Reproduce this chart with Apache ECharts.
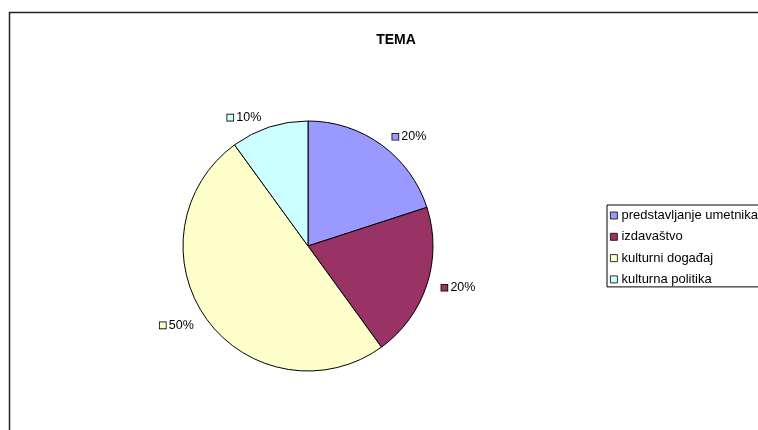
<!DOCTYPE html>
<html>
<head>
<meta charset="utf-8">
<script src="https://cdn.jsdelivr.net/npm/echarts@6/dist/echarts.min.js"></script>
<style>
html,body{margin:0;padding:0;background:#fff;}
#c{width:758px;height:430px;}
</style>
</head>
<body>
<div id="c"></div>
<script>
const categories = ["predstavljanje umetnika", "izdavaštvo", "kulturni događaj", "kulturna politika"];
const values = [20, 20, 50, 10];
const colors = ["#9999FF", "#993366", "#FFFFCC", "#CCFFFF"];
const chartTitle = "TEMA";

const font = "Liberation Sans, Arial, sans-serif";
const rich = { t: { fontSize: 12.5, fontFamily: font, color: "#000", padding: [0, 0, 0, 3] } };
colors.forEach((c, i) => {
  rich["m" + i] = { width: 6, height: 6, backgroundColor: c, borderColor: "#000", borderWidth: 0.8 };
});

const chart = echarts.init(document.getElementById("c"), null, { renderer: "canvas" });
chart.setOption({
  animation: false,
  backgroundColor: "#fff",
  color: colors,
  title: {
    text: chartTitle,
    left: 391,
    textAlign: "center",
    top: 28,
    textStyle: { fontFamily: font, fontSize: 14, fontWeight: "bold", color: "#000" }
  },
  graphic: [{
    type: "rect",
    shape: { x: 9.5, y: 12.5, width: 900, height: 600 },
    style: { fill: null, stroke: "#222", lineWidth: 1.5 },
    z: -1
  }],
  legend: {
    orient: "vertical",
    left: 607,
    top: 205,
    data: categories,
    icon: "rect",
    itemWidth: 7,
    itemHeight: 7,
    itemGap: 8.3,
    padding: [4, 6, 1, 3],
    borderColor: "#000",
    borderWidth: 1,
    itemStyle: { borderWidth: 0.8, borderColor: "#000" },
    textStyle: { fontFamily: font, fontSize: 13, color: "#000", padding: [0, 0, 0, -1] }
  },
  series: [{
    type: "pie",
    center: [308, 246],
    radius: 125,
    startAngle: 90,
    clockwise: true,
    avoidLabelOverlap: false,
    itemStyle: { borderColor: "#000", borderWidth: 1 },
    emphasis: { disabled: true },
    label: {
      show: true,
      position: "outside",
      formatter: p => `{m${p.dataIndex}|}{t|${p.value}%}`,
      rich: rich
    },
    labelLine: { show: false, length: 10, length2: 0 },
    data: categories.map((n, i) => ({ name: n, value: values[i] }))
  }]
});
</script>
</body>
</html>
